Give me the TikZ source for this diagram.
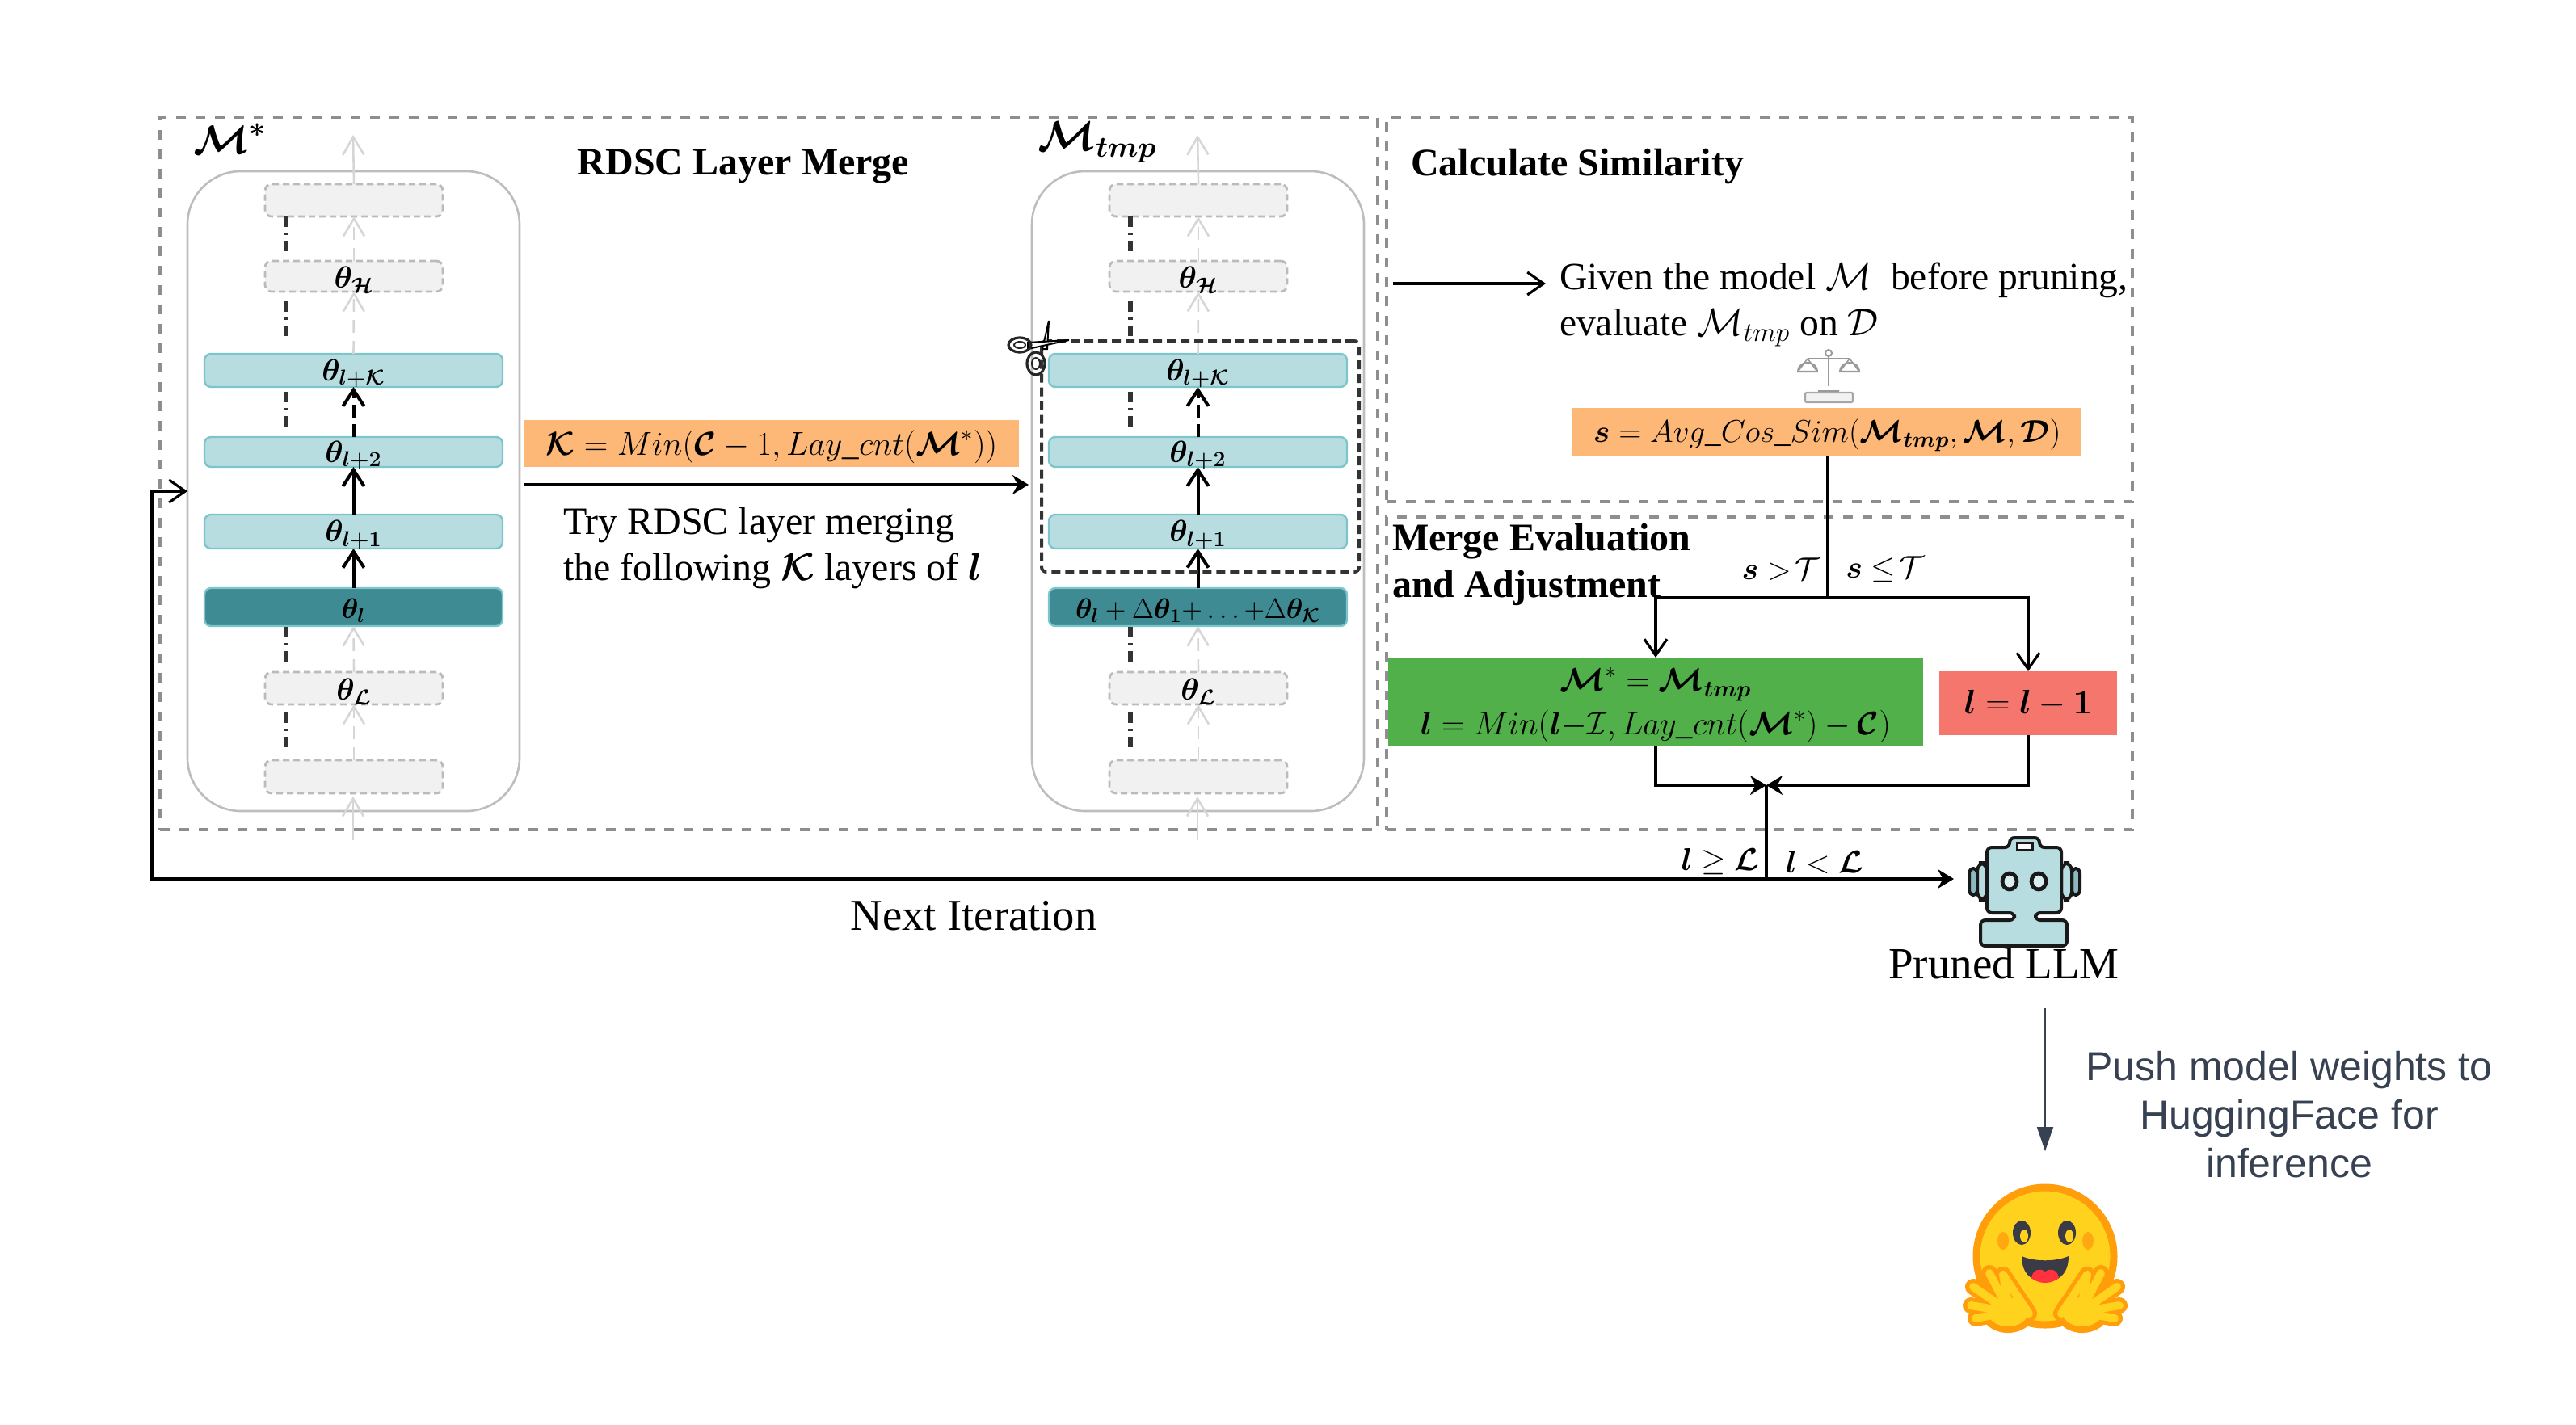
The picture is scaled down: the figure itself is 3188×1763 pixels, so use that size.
\RequirePackage{fix-cm}
\documentclass[tikz,border=0pt]{standalone}
\usepackage{amsmath,bm}
\usepackage{fontspec}
\setmainfont{Liberation Serif}
\newfontfamily\arialfont{Liberation Sans}
\usetikzlibrary{arrows.meta,calc,shapes.geometric}
\definecolor{boxgray}{HTML}{8E8E8E}
\definecolor{modelgray}{HTML}{BDBDBD}
\definecolor{ghostfill}{HTML}{F1F1F1}
\definecolor{ghostline}{HTML}{BBBBBB}
\definecolor{ghostarrow}{HTML}{D6D6D6}
\definecolor{tealfill}{HTML}{B7DDE0}
\definecolor{tealline}{HTML}{7CC5CA}
\definecolor{tealdark}{HTML}{3F8B94}
\definecolor{orangebox}{HTML}{FDB777}
\definecolor{greenbox}{HTML}{52B04A}
\definecolor{redbox}{HTML}{F4766D}
\definecolor{slate}{HTML}{374151}
\definecolor{hfy}{HTML}{FFD21E}
\definecolor{hfo}{HTML}{FF9D0B}
\definecolor{hfd}{HTML}{3A3B45}
\definecolor{hfr}{HTML}{FF323D}
\newcommand{\fsz}[2]{\fontsize{#1}{#2}\selectfont}
\newcommand{\lbl}[1]{\raisebox{-2pt}[\height][\depth]{#1}}
\newcommand{\bx}[7]{\node[#1,minimum width={((#5)-(#3))*0.5pt},minimum height={((#6)-(#4))*0.5pt}] (#2) at ({((#3)+(#5))/2},{((#4)+(#6))/2}) {#7};}
\tikzset{
  x=0.5pt,y=-0.5pt,
  every node/.style={inner sep=0pt,outer sep=0pt},
  region/.style={draw=boxgray,line width=1.7pt,dash pattern=on 6pt off 6pt},
  modelbox/.style={draw=modelgray,line width=1.3pt,rounded corners=33pt},
  ghost/.style={draw=ghostline,fill=ghostfill,line width=1.4pt,rounded corners=4pt,dash pattern=on 4pt off 2.5pt,font=\fsz{19}{22}},
  layer/.style={draw=tealline,fill=tealfill,line width=1.2pt,rounded corners=4pt,font=\fsz{19}{22}},
  layerdark/.style={draw=tealline,fill=tealdark,line width=1.2pt,rounded corners=4pt,font=\fsz{17.5}{22}},
  mergebox/.style={draw=black!80,line width=2pt,rounded corners=3pt,dash pattern=on 5.5pt off 3pt},
  orange/.style={fill=orangebox},
  greenb/.style={fill=greenbox,align=center,font=\fsz{20.2}{28}},
  redb/.style={fill=redbox},
  ghostflow/.style={draw=ghostarrow,line width=1.3pt,-{Straight Barb[length=11pt,width=13pt,line width=1.3pt]}},
  ghostdash/.style={ghostflow,dash pattern=on 8pt off 5pt},
  blackflow/.style={draw=black,line width=2pt,-{Straight Barb[length=10pt,width=13pt,line width=2pt]}},
  blackdash/.style={blackflow,dash pattern=on 8pt off 4pt},
  skipline/.style={draw=black!80,line width=2.6pt,dash pattern=on 6.5pt off 3.5pt on 1.5pt off 3.5pt on 6.5pt off 20pt},
  openflow/.style={draw=black,line width=1.6pt,-{Straight Barb[length=10pt,width=14pt,line width=1.6pt]}},
  solidflow/.style={draw=black,line width=1.6pt,-{Stealth[length=10pt,width=12pt]}},
  plain/.style={draw=black,line width=1.6pt},
  serif24/.style={font=\fsz{24}{28.5},align=left},
  titleb/.style={font=\bfseries\fsz{24}{29},align=left},
  mathlbl/.style={font=\fsz{19.5}{24}},
}
\newcommand{\model}[3]{%
  \bx{modelbox}{#1outer}{232+#2}{212}{643+#2}{1004}{}
  \bx{ghost}{#1top}{328+#2}{228}{548+#2}{268}{}
  \bx{ghost}{#1H}{328+#2}{323}{548+#2}{361}{\lbl{$\bm{\theta}_{\bm{\mathcal{H}}}$}}
  \bx{layer}{#1k}{253+#2}{438}{622+#2}{479}{\lbl{$\bm{\theta}_{\bm{l+\mathcal{K}}}$}}
  \bx{layer}{#1two}{253+#2}{541}{622+#2}{578}{\lbl{$\bm{\theta}_{\bm{l+2}}$}}
  \bx{layer}{#1one}{253+#2}{637}{622+#2}{679}{\lbl{$\bm{\theta}_{\bm{l+1}}$}}
  \bx{layerdark}{#1l}{253+#2}{728}{622+#2}{775}{#3}
  \bx{ghost}{#1L}{328+#2}{832}{548+#2}{872}{\lbl{$\bm{\theta}_{\bm{\mathcal{L}}}$}}
  \bx{ghost}{#1bot}{328+#2}{941}{548+#2}{982}{}
  \coordinate (#1out) at (437+#2,167);
  \coordinate (#1in) at (437+#2,1040);
  \coordinate (#1intip) at (437+#2,986);
  \draw[ghostflow] (#1top.north) -- (#1out);
  \draw[ghostdash] (#1H.north) -- (#1top.south);
  \draw[ghostdash] (#1k.north) -- (#1H.south);
  \draw[blackdash] (#1two.north) -- (#1k.south);
  \draw[blackflow] (#1one.north) -- (#1two.south);
  \draw[blackflow] (#1l.north) -- (#1one.south);
  \draw[ghostdash] (#1L.north) -- (#1l.south);
  \draw[ghostdash] (#1bot.north) -- (#1L.south);
  \draw[ghostflow] (#1in) -- (#1intip);
  \foreach \ya/\yb in {268/323,373/425,485/537,776/832,882/935}{
    \draw[skipline] (354+#2,\ya) -- (354+#2,\yb);
  }
}
\begin{document}
\begin{tikzpicture}
\useasboundingbox (0,0) rectangle (3188,1763);
% regions
\bx{region}{rmerge}{198}{145}{1705}{1027}{}
\bx{region}{rsim}{1716}{145}{2639}{621}{}
\bx{region}{radj}{1716}{640}{2639}{1027}{}
% models
\model{a}{0}{\lbl{$\bm{\theta}_{\bm{l}}$}}
\model{b}{1045}{\lbl{$\bm{\theta}_{\bm{l}}+\Delta\bm{\theta}_{\bm{1}}{+}\ldots{+}\Delta\bm{\theta}_{\bm{\mathcal{K}}}$}}
\bx{mergebox}{mbox}{1289}{422}{1682}{708}{}
% scissors
\draw[black,line width=1pt,fill=white] (1290,432) -- (1298,397) -- (1296,432) -- cycle;
\draw[black,line width=1pt,fill=white] (1272,424) -- (1323,421) -- (1272,432) -- cycle;
\draw[black!85,line width=1.6pt] (1262,427) ellipse (14 and 9);
\draw[black!85,line width=1pt] (1262,427) ellipse (7 and 4);
\draw[black!85,line width=1.6pt] (1282,450) ellipse (11 and 14);
\draw[black!85,line width=1pt] (1282,450) ellipse (5 and 7);
% labels
\node[font=\fsz{25}{30},anchor=center] (mstar) at (285,172) {$\bm{\mathcal{M}}^{\bm{*}}$};
\node[font=\fsz{26}{30},anchor=center] (mtmp) at (1358,176) {$\bm{\mathcal{M}}_{\bm{tmp}}$};
\node[titleb] (tmerge) at (920,206) {RDSC Layer Merge};
\node[titleb,anchor=west] (tsim) at (1746,206) {Calculate Similarity};
\node[titleb,anchor=west] (tadj) at (1723,699) {Merge Evaluation\\and Adjustment};
% K box and merge arrow
\bx{orange}{kbox}{649}{520}{1261}{578}{\fsz{20.5}{26}\lbl{$\bm{\mathcal{K}}=Min(\bm{\mathcal{C}}-1,Lay\_cnt(\bm{\mathcal{M}}^{*}))$}}
\draw[solidflow] ($(aouter.east)+(6,-8)$) -- ($(bouter.west)+(-4,-8)$);
\node[serif24,anchor=north west] (trynote) at (697,628) {Try RDSC layer merging\\the following $\bm{\mathcal{K}}$ layers of $\bm{l}$};
% similarity
\node[serif24,font=\fsz{23.8}{28.5},anchor=west] (given) at (1930,377) {Given the model $\mathcal{M}$ \ before pruning,\\evaluate $\mathcal{M}_{tmp}$ on $\mathcal{D}$};
\coordinate (givenstart) at (1724,351);
\coordinate (giventip) at (1913,351);
\draw[openflow] (givenstart) -- (giventip);
% scales icon
\node[minimum width=40pt,minimum height=32pt] (scales) at (2263,466) {};
\begin{scope}[xshift=-1.5pt]
\draw[gray!80,line width=1pt] (2266,438) -- (2266,478);
\draw[gray!80,line width=1pt] (2240,444) -- (2292,444);
\draw[gray!80,line width=1pt,fill=white] (2266,437) circle (4);
\draw[gray!80,line width=1.1pt] (2228,460) arc[start angle=180,end angle=360,x radius=12,y radius=11] -- cycle;
\draw[gray!80,line width=1.1pt] (2280,460) arc[start angle=180,end angle=360,x radius=12,y radius=11] -- cycle;
\draw[gray!80,line width=.8pt] (2240,444) -- (2228,460) (2240,444) -- (2252,460) (2292,444) -- (2280,460) (2292,444) -- (2304,460);
\draw[gray!80,line width=1pt,fill=orange!70!yellow] (2254,484) arc[start angle=180,end angle=0,x radius=12,y radius=9] -- cycle;
\draw[gray!70,line width=1.1pt,fill=gray!10,rounded corners=1pt] (2237,486) rectangle (2296,498);
\end{scope}
\bx{orange}{sbox}{1946}{505}{2576}{564}{\fsz{19.5}{26}\lbl{$\bm{s}=Avg\_Cos\_Sim(\bm{\mathcal{M}}_{\bm{tmp}},\bm{\mathcal{M}},\bm{\mathcal{D}})$}}
% evaluation
\bx{greenb}{gbox}{1718}{814}{2380}{924}{\lbl{$\bm{\mathcal{M}}^{*}=\bm{\mathcal{M}}_{\bm{tmp}}$}\\[-1pt]\lbl{$\bm{l}=Min(\bm{l}{-}\mathcal{I},Lay\_cnt(\bm{\mathcal{M}}^{*})-\bm{\mathcal{C}})$}}
\bx{redb}{rbox}{2400}{831}{2620}{910}{\fsz{21}{26}$\bm{l}=\bm{l}-\bm{1}$}
\coordinate (split) at (2262,740);
\coordinate (merge) at (2186,972);
\coordinate (jn) at (2186,1088);
\coordinate (backcorner) at (188,1088);
\coordinate (robotin) at (2418,1088);
\draw[plain] (sbox.south -| split) -- (split);
\draw[openflow] (split) -| (gbox.north);
\draw[openflow] (split) -| (rbox.north);
\draw[solidflow] (gbox.south) |- (merge);
\draw[solidflow] (rbox.south) |- (merge);
\draw[plain] (merge) -- (jn);
\draw[solidflow] (jn) -- (robotin);
\draw[openflow,line width=1.9pt] (jn) -- (backcorner) |- (aouter.west);
\node[mathlbl,anchor=center] (sgt) at (2204,705) {$\bm{s}>\!\mathcal{T}$};
\node[mathlbl,anchor=center] (sle) at (2333,705) {$\bm{s}\leq\!\mathcal{T}$};
\node[mathlbl,anchor=center] (lge) at (2129,1067) {$\bm{l}\geq\bm{\mathcal{L}}$};
\node[mathlbl,anchor=center] (llt) at (2258,1067) {$\bm{l}<\bm{\mathcal{L}}$};
\node[font=\fsz{27.3}{30}] (nextit) at (1205,1134) {Next Iteration};
% robot
\node[minimum width=68pt,minimum height=67pt] (robot) at (2506,1104) {};
\begin{scope}[xshift=-1pt,draw=black!90,line width=2pt,fill=tealfill]
  \filldraw[fill=tealdark!60,rounded corners=3pt] (2439,1075) rectangle (2449,1108);
  \filldraw[fill=tealdark!60,rounded corners=3pt] (2566,1075) rectangle (2576,1108);
  \filldraw[rounded corners=5pt] (2449,1068) rectangle (2461,1114);
  \filldraw[rounded corners=5pt] (2553,1068) rectangle (2566,1114);
  \filldraw[line join=round,rounded corners=3pt] (2489,1049) -- (2489,1037) -- (2526,1037) -- (2526,1049) -- (2553,1049) -- (2553,1130) -- (2521,1130) -- (2521,1139) -- (2560,1139) -- (2560,1171) -- (2453,1171) -- (2453,1139) -- (2495,1139) -- (2495,1130) -- (2461,1130) -- (2461,1049) -- cycle;
  \draw[line width=1.5pt,fill=white] (2498,1043) rectangle (2517,1052);
  \draw[line width=2.4pt,fill=tealfill!50] (2489,1091) ellipse (9 and 10);
  \draw[line width=2.4pt,fill=tealfill!50] (2525,1091) ellipse (9 and 10);
\end{scope}
\node[font=\fsz{27.5}{30}] (pruned) at (2480,1193) {Pruned LLM};
% push
\coordinate (pushstart) at (2531,1248);
\coordinate (pushtip) at (2531,1425);
\draw[draw=slate,fill=slate,line width=1pt,-{Triangle[length=15pt,width=10pt]}] (pushstart) -- (pushtip);
\node[font=\arialfont\fsz{25}{30},text=slate,align=center] (push) at (2833,1380) {Push model weights to\\HuggingFace for\\inference};
% hugging face
\node[minimum width=98pt,minimum height=90pt] (hf) at (2531,1558) {};
\begin{scope}[xshift=-1pt]
\filldraw[draw=hfo,fill=hfy,line width=4.5pt] (2533,1555) ellipse (85 and 85);
\fill[hfd] (2504,1526) ellipse (11 and 15);
\fill[hfd] (2560,1526) ellipse (11 and 15);
\fill[hfy] (2507,1530) ellipse (5 and 8);
\fill[hfy] (2563,1530) ellipse (5 and 8);
\fill[hfo!80!hfy] (2481,1536) ellipse (7 and 11);
\fill[hfo!80!hfy] (2586,1536) ellipse (7 and 11);
\fill[hfd] (2504,1555) .. controls (2520,1562) and (2546,1562) .. (2562,1555) .. controls (2562,1578) and (2548,1587) .. (2533,1587) .. controls (2518,1587) and (2504,1578) .. (2504,1555) -- cycle;
\fill[hfr] (2516,1582) .. controls (2518,1570) and (2528,1570) .. (2533,1574) .. controls (2538,1570) and (2548,1570) .. (2550,1582) .. controls (2540,1590) and (2526,1590) .. (2516,1582) -- cycle;
\foreach \s in {-1,1}{
  \begin{scope}[line cap=round]
    \fill[hfo] ({2533+\s*46},1624) ellipse (33 and 26);
    \foreach \dx/\yy in {69/1576,89/1593,92/1616,86/1632,52/1578}{
      \draw[hfo,line width=10pt] ({2533+\s*44},1624) -- ({2533+\s*\dx},\yy);
    }
    \draw[hfo,line width=10pt] ({2533+\s*20},1626) -- ({2533+\s*52},1578);
    \fill[hfy] ({2533+\s*46},1624) ellipse (25 and 18);
    \foreach \dx/\yy in {69/1576,89/1593,92/1616,86/1632,52/1578}{
      \draw[hfy,line width=5pt] ({2533+\s*44},1624) -- ({2533+\s*\dx},\yy);
    }
    \draw[hfy,line width=5pt] ({2533+\s*20},1626) -- ({2533+\s*52},1578);
  \end{scope}
}
\end{scope}
\end{tikzpicture}
\end{document}
